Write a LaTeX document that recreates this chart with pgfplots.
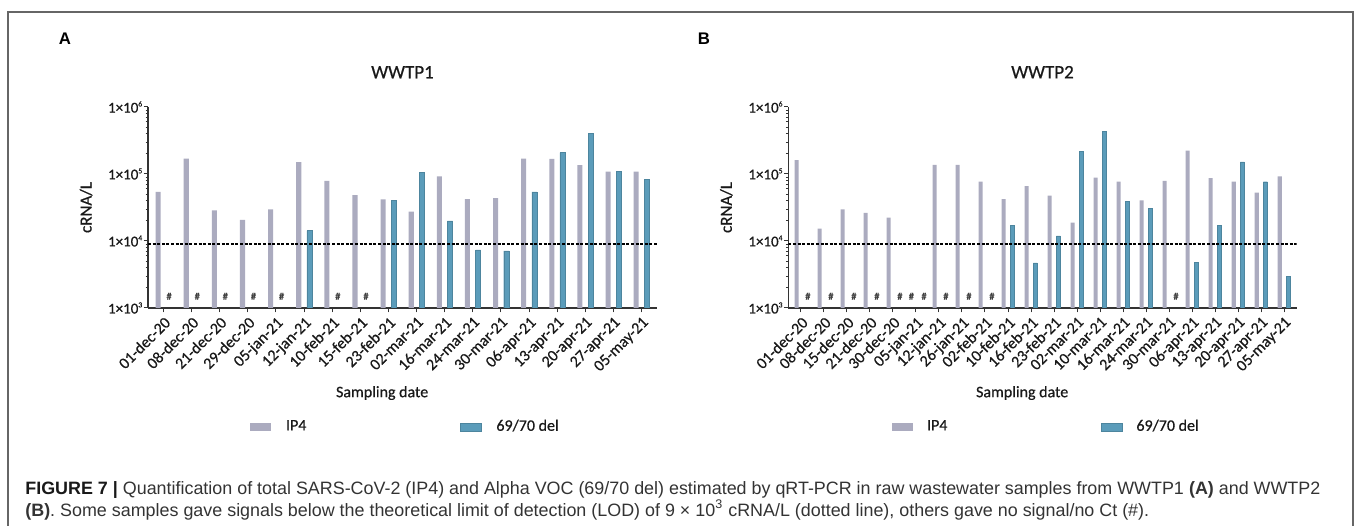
\documentclass[border=0pt]{standalone}
\usepackage{pgfplots}
\pgfplotsset{compat=1.18}
\usepackage{fontspec}
\setmainfont{Carlito}[FakeBold=0.6]
\newfontfamily\capfont{Liberation Sans}
\definecolor{ipgray}{HTML}{ABABBF}
\definecolor{delblue}{HTML}{5B9CBA}
\definecolor{axgray}{HTML}{333333}
\newcommand\sx[1]{\raisebox{0.85ex}{\fontsize{3.8}{4}\selectfont #1}}

\pgfplotsset{
  ipbar/.style={ybar, bar width=0.18, bar shift=-0.19, fill=ipgray, draw=none},
  delbar/.style={ybar, bar width=0.18, bar shift=0.19, fill=delblue, draw=delblue!85!black, line width=0.2pt},
  nosig/.style={only marks, mark=text, text mark={\fontsize{5}{5}\selectfont\bfseries\color{black!75}\#}},
  lod/.style={black, line width=0.6pt, dash pattern=on 1.5pt off 0.8pt},
}

\begin{document}
\begin{tikzpicture}
\useasboundingbox (0,0) rectangle (680pt,262.5pt);
\draw[color=black!60, line width=0.75pt] (4pt,-5pt) -- (4pt,256.5pt) -- (676.5pt,256.5pt) -- (676.5pt,-5pt);
\node[font=\capfont\bfseries\fontsize{8.4}{9}\selectfont] at (32.5pt,243pt) {A};
\node[font=\capfont\bfseries\fontsize{8.4}{9}\selectfont] at (352pt,243pt) {B};

% ---------- Panel A ----------
\begin{axis}[at={(74pt,108.5pt)}, anchor=south west,
    scale only axis, width=254.5pt, height=100.5pt,
    ymode=log, ymin=1e3, ymax=1e6, log origin=infty,
    ytick={1e3,1e4,1e5,1e6},
    yticklabels={1×10\sx{3},1×10\sx{4},1×10\sx{5},1×10\sx{6}},
    minor ytick={2e3,3e3,4e3,5e3,6e3,7e3,8e3,9e3,2e4,3e4,4e4,5e4,6e4,7e4,8e4,9e4,2e5,3e5,4e5,5e5,6e5,7e5,8e5,9e5},
    axis x line*=bottom, axis y line*=left,
    axis line style={-, line width=0.75pt, color=axgray},
    xtick pos=bottom, ytick pos=left,
    tick align=outside,
    major tick length=2.2pt, minor tick length=1.2pt,
    tick style={line width=0.5pt, color=axgray},
    yticklabel style={font=\fontsize{7.5}{8}\selectfont, text=black!90, inner sep=0.5pt},
    xticklabel style={font=\fontsize{8}{9}\selectfont, text=black!90, rotate=45, anchor=north east, inner sep=1pt},
    title style={font=\fontsize{9.5}{10}\selectfont, text=black!90, at={(axis description cs:0.5,1)}, anchor=center, yshift=11.4pt},
    ylabel style={font=\fontsize{8.5}{9}\selectfont, text=black!90, at={(axis description cs:-0.1218,0.5)}, anchor=center},
    xlabel style={font=\fontsize{8}{9}\selectfont, text=black!90, at={(axis description cs:0.46,0)}, anchor=center, yshift=-42.5pt},
    ylabel={cRNA/L}, xlabel={Sampling date},
    legend columns=2,
    legend style={at={(axis description cs:0.2004,-0.5906)}, anchor=west, draw=none, fill=none, inner sep=0pt,
      font=\fontsize{8}{9}\selectfont, text=black!90,
      /tikz/every odd column/.append style={column sep=5.5pt},
      /tikz/every even column/.append style={column sep=75pt}},
    legend image code/.code={\fill[#1] (0pt,-2pt) rectangle (10.3pt,2pt);},
  title={WWTP1},
  xmin=-0.55, xmax=17.55, xtick={0,...,17},
  xticklabels={01-dec-20,08-dec-20,21-dec-20,29-dec-20,05-jan-21,12-jan-21,10-feb-21,15-feb-21,23-feb-21,02-mar-21,16-mar-21,24-mar-21,30-mar-21,06-apr-21,13-apr-21,20-apr-21,27-apr-21,05-may-21}]
\addplot[ipbar] coordinates {(0,54000) (1,170000) (2,28700) (3,20600) (4,29700) (5,150000) (6,79000) (7,48500) (8,41800) (9,27400) (10,92000) (11,42300) (12,43800) (13,170000) (14,168000) (15,136000) (16,108000) (17,108000)};
\addlegendentry{IP4}
\addplot[delbar] coordinates {(5,14300) (8,40000) (9,107000) (10,20000) (11,7400) (12,7100) (13,54000) (14,209000) (15,400000) (16,110000) (17,83000)};
\addlegendentry{69/70 del}
\addplot[nosig, forget plot] coordinates {(0.2,1500) (1.2,1500) (2.2,1500) (3.2,1500) (4.2,1500) (6.2,1500) (7.2,1500)};
\addplot[lod, forget plot] coordinates {(-0.55,9000) (17.55,9000)};
\end{axis}

% ---------- Panel B ----------
\begin{axis}[at={(394.15pt,108.5pt)}, anchor=south west,
    scale only axis, width=254.2pt, height=100.5pt,
    ymode=log, ymin=1e3, ymax=1e6, log origin=infty,
    ytick={1e3,1e4,1e5,1e6},
    yticklabels={1×10\sx{3},1×10\sx{4},1×10\sx{5},1×10\sx{6}},
    minor ytick={2e3,3e3,4e3,5e3,6e3,7e3,8e3,9e3,2e4,3e4,4e4,5e4,6e4,7e4,8e4,9e4,2e5,3e5,4e5,5e5,6e5,7e5,8e5,9e5},
    axis x line*=bottom, axis y line*=left,
    axis line style={-, line width=0.75pt, color=axgray},
    xtick pos=bottom, ytick pos=left,
    tick align=outside,
    major tick length=2.2pt, minor tick length=1.2pt,
    tick style={line width=0.5pt, color=axgray},
    yticklabel style={font=\fontsize{7.5}{8}\selectfont, text=black!90, inner sep=0.5pt},
    xticklabel style={font=\fontsize{8}{9}\selectfont, text=black!90, rotate=45, anchor=north east, inner sep=1pt},
    title style={font=\fontsize{9.5}{10}\selectfont, text=black!90, at={(axis description cs:0.5,1)}, anchor=center, yshift=11.4pt},
    ylabel style={font=\fontsize{8.5}{9}\selectfont, text=black!90, at={(axis description cs:-0.122,0.5)}, anchor=center},
    xlabel style={font=\fontsize{8}{9}\selectfont, text=black!90, at={(axis description cs:0.46,0)}, anchor=center, yshift=-42.5pt},
    ylabel={cRNA/L}, xlabel={Sampling date},
    legend columns=2,
    legend style={at={(axis description cs:0.204,-0.5906)}, anchor=west, draw=none, fill=none, inner sep=0pt,
      font=\fontsize{8}{9}\selectfont, text=black!90,
      /tikz/every odd column/.append style={column sep=5pt},
      /tikz/every even column/.append style={column sep=75pt}},
    legend image code/.code={\fill[#1] (0pt,-2pt) rectangle (10.3pt,2pt);},
  title={WWTP2},
  xmin=-0.55, xmax=21.55, xtick={0,...,21},
  xticklabels={01-dec-20,08-dec-20,15-dec-20,21-dec-20,30-dec-20,05-jan-21,12-jan-21,26-jan-21,02-feb-21,10-feb-21,16-feb-21,23-feb-21,02-mar-21,10-mar-21,16-mar-21,24-mar-21,30-mar-21,06-apr-21,13-apr-21,20-apr-21,27-apr-21,05-may-21}]
\addplot[ipbar] coordinates {(0,161000) (1,15300) (2,29700) (3,26200) (4,22300) (6,137000) (7,137000) (8,76600) (9,42300) (10,66000) (11,47400) (12,18800) (13,88000) (14,76600) (15,40400) (16,79000) (17,224000) (18,87000) (19,76600) (20,52600) (21,92000)};
\addlegendentry{IP4}
\addplot[delbar] coordinates {(9,17000) (10,4700) (11,11900) (12,219000) (13,435000) (14,39500) (15,30400) (17,4780) (18,17200) (19,152000) (20,76600) (21,2960)};
\addlegendentry{69/70 del}
\addplot[nosig, forget plot] coordinates {(0.3,1500) (1.3,1500) (2.3,1500) (3.3,1500) (4.3,1500) (4.8,1500) (5.35,1500) (6.3,1500) (7.3,1500) (8.3,1500) (16.3,1500)};
\addplot[lod, forget plot] coordinates {(-0.55,9000) (21.55,9000)};
\end{axis}

% ---------- Caption ----------
\node[anchor=base west, inner sep=0pt, font=\capfont\fontsize{8.95}{10}\selectfont, text=black!80] at (12.5pt,15.5pt)
  {{\bfseries\color{black!90}FIGURE 7 |} Quantification of total SARS-CoV-2 (IP4) and Alpha VOC (69/70 del) estimated by qRT-PCR in raw wastewater samples from WWTP1 {\bfseries (A)} and WWTP2};
\node[anchor=base west, inner sep=0pt, font=\capfont\fontsize{8.95}{10}\selectfont, text=black!80] at (12.5pt,4.25pt)
  {{\bfseries (B)}. Some samples gave signals below the theoretical limit of detection (LOD) of 9 × 10\textsuperscript{3} cRNA/L (dotted line), others gave no signal/no Ct (\#).};
\end{tikzpicture}
\end{document}
